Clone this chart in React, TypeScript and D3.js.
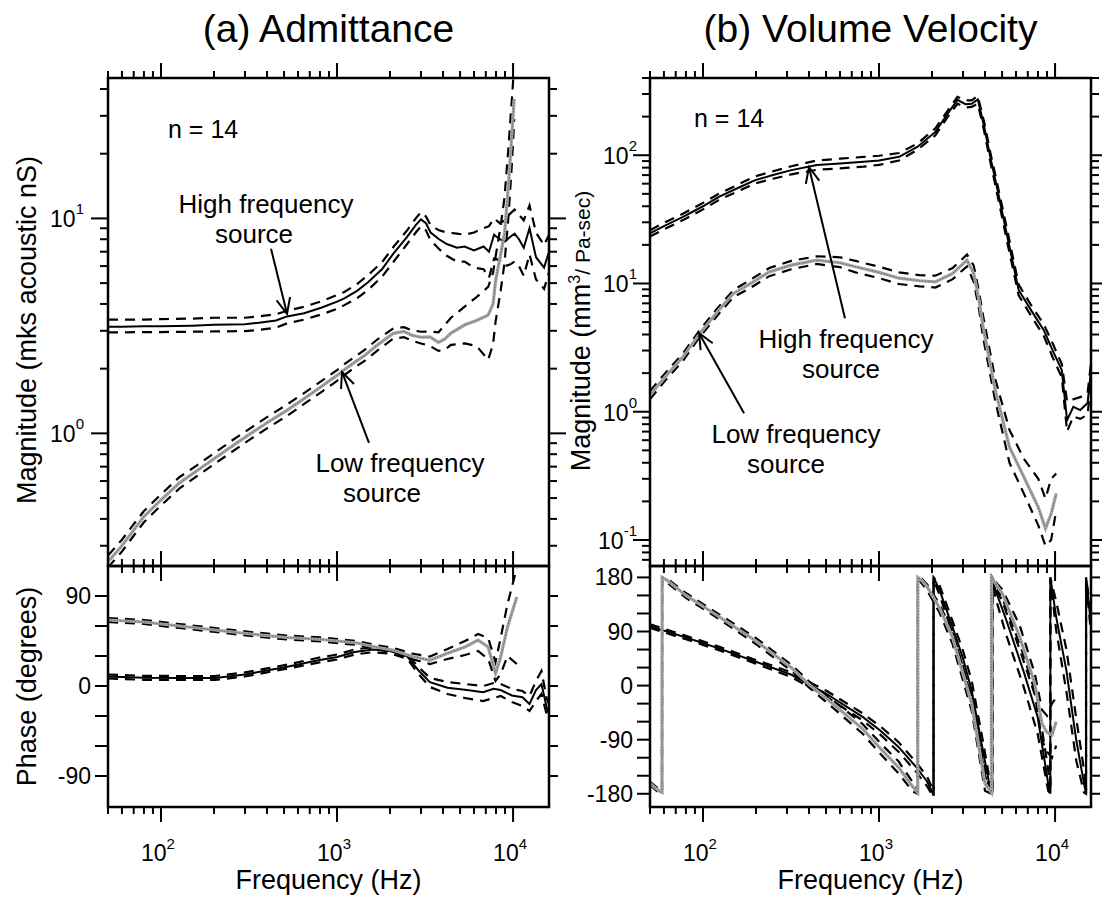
import React from "react";
import * as d3 from "d3";

// ---------------- DATA ----------------
// (a) Admittance magnitude, high frequency source
const admHiFreq = [50, 60, 80, 100, 150, 200, 300, 360, 450, 520, 650, 820, 1000, 1100, 1300, 1500, 1800, 2100, 2500, 2800, 3000, 3200, 3400, 3800, 4200, 4800, 5300, 6000, 6800, 7300, 7800, 8400, 9000, 9600, 10200, 10800, 11500, 12400, 13500, 15000, 16000];
const admHiMean = [3.13, 3.13, 3.15, 3.15, 3.17, 3.2, 3.22, 3.27, 3.35, 3.5, 3.62, 3.85, 4.1, 4.25, 4.6, 5.05, 5.8, 6.9, 8.2, 9.3, 9.9, 9.5, 8.6, 8.0, 7.6, 7.3, 7.4, 7.1, 7.4, 7.0, 8.4, 8.0, 7.8, 8.2, 8.5, 8.0, 7.3, 9.0, 6.6, 5.9, 7.0];
const admHiUpper = [3.38, 3.38, 3.38, 3.4, 3.42, 3.45, 3.45, 3.5, 3.58, 3.72, 3.88, 4.12, 4.4, 4.55, 4.95, 5.45, 6.25, 7.4, 8.8, 10.0, 10.7, 10.2, 9.3, 8.8, 8.6, 8.5, 8.4, 8.6, 9.0, 9.2, 10.0, 9.5, 9.8, 10.5, 11.0, 10.4, 9.8, 11.5, 8.6, 7.5, 8.4];
const admHiLower = [2.95, 2.95, 2.96, 2.96, 2.97, 2.98, 2.99, 3.03, 3.1, 3.25, 3.38, 3.58, 3.8, 3.95, 4.25, 4.65, 5.35, 6.3, 7.6, 8.6, 9.2, 8.8, 7.9, 7.2, 6.7, 6.3, 6.3, 5.9, 5.8, 5.3, 6.5, 6.4, 6.0, 6.1, 6.3, 6.0, 5.4, 6.8, 5.2, 4.7, 5.6];

// (a) Admittance magnitude, low frequency source
const admLoFreq = [50, 60, 70, 80, 100, 127, 160, 203, 250, 324, 400, 519, 650, 822, 1000, 1093, 1300, 1440, 1700, 2090, 2400, 2660, 3000, 3370, 3770, 4100, 4440, 5330, 6200, 7220, 7700, 7950, 8500, 8940, 9400, 9850, 10150];
const admLoMean = [0.253, 0.3, 0.355, 0.41, 0.49, 0.587, 0.67, 0.768, 0.865, 1.0, 1.12, 1.28, 1.45, 1.66, 1.86, 1.97, 2.18, 2.31, 2.58, 2.92, 2.98, 2.86, 2.8, 2.81, 2.65, 2.75, 2.93, 3.2, 3.35, 3.55, 4.0, 5.1, 6.8, 8.5, 14, 24.9, 36];
const admLoUpper = [0.27, 0.32, 0.378, 0.435, 0.52, 0.625, 0.71, 0.815, 0.92, 1.06, 1.19, 1.36, 1.54, 1.76, 1.97, 2.09, 2.31, 2.45, 2.74, 3.08, 3.12, 3.02, 2.97, 2.98, 2.95, 3.2, 3.45, 3.9, 4.3, 4.8, 5.6, 6.6, 9.2, 12.5, 21, 36, 52];
const admLoLower = [0.238, 0.282, 0.334, 0.386, 0.462, 0.553, 0.632, 0.724, 0.815, 0.943, 1.055, 1.205, 1.37, 1.565, 1.755, 1.86, 2.06, 2.18, 2.43, 2.76, 2.8, 2.7, 2.62, 2.55, 2.42, 2.45, 2.58, 2.62, 2.55, 2.2, 2.6, 3.3, 4.6, 6.2, 10, 18, 29];

// (a) Admittance phase, low frequency source
const admLoPhFreq = [50, 80, 127, 203, 324, 519, 822, 1300, 1650, 2090, 2660, 3370, 4240, 5330, 6330, 7220, 7950, 8500, 9300, 10500];
const admLoPhMean = [66, 64, 60, 56, 52, 48.5, 46.5, 43, 39, 35.7, 29.7, 25.7, 32.7, 39, 45.8, 39, 12.6, 29, 59, 89];
const admLoPhUpper = [68, 66, 62, 58, 54, 50.5, 48.5, 45, 41, 38, 32.5, 29.5, 37, 45, 52, 48, 24, 48, 82, 118];
const admLoPhLower = [64, 62, 58, 54, 50, 46.5, 44.5, 41, 37, 33.5, 27, 22, 27, 31, 35, 27, 5, 12, 30, 22];

// (a) Admittance phase, high frequency source
const admHiPhFreq = [50, 80, 127, 203, 300, 400, 530, 770, 1000, 1260, 1600, 2000, 2500, 2900, 3370, 4240, 5330, 6760, 7750, 8500, 9850, 11300, 12400, 13500, 14500, 15500, 16000];
const admHiPhMean = [9.5, 8.2, 8, 8, 11.6, 15.6, 19.6, 25.6, 29, 34, 36.4, 35, 29.7, 15.6, 3.8, -1.8, -3.8, -6.2, -2.8, -4, -9.5, -11.2, -18, -4, 2, -21, -28];
const admHiPhUpper = [11.5, 10.2, 10, 10, 13.6, 17.6, 21.6, 28, 31.5, 36.5, 39, 37.5, 32, 19, 8, 4, 2, 0, 3, 2, -3, -5, -10, 5, 15, -12, -18];
const admHiPhLower = [7.5, 6.2, 6, 6, 9.6, 13.6, 17.6, 23.2, 26.5, 31.5, 33.8, 32.5, 27.4, 12, -1, -8, -12, -15, -12, -10, -16, -20, -25, -15, -8, -28, -32];

// (b) Volume velocity magnitude, high frequency source
const vvHiFreq = [50, 60, 77, 100, 123, 160, 198, 250, 318, 443, 600, 817, 1000, 1300, 1650, 2090, 2450, 2790, 3100, 3360, 3640, 3960, 4300, 4670, 5400, 6210, 7300, 8630, 9700, 10920, 11700, 12700, 13900, 15300, 16000];
const vvHiMean = [24.6, 28, 33.1, 40, 47.4, 56, 64, 70, 76.5, 83.8, 86, 88.9, 91, 97.2, 116, 152, 210, 270, 250, 252, 272, 166, 95, 56.7, 22, 8.9, 6.2, 4.33, 3.0, 2.11, 0.86, 1.09, 1.03, 1.17, 2.11];
const vvHiUpper = [26, 29.7, 35, 42.5, 50, 59.5, 68.5, 75, 82, 91, 94, 97, 99, 104, 123, 162, 222, 285, 268, 268, 290, 180, 103, 62, 24.5, 9.8, 6.8, 4.8, 3.4, 2.35, 1.2, 1.25, 1.3, 1.4, 2.4];
const vvHiLower = [23.2, 26.4, 31.2, 37.8, 44.8, 52.8, 60.3, 65.5, 71, 77, 79, 81.5, 84, 91, 110, 143, 198, 252, 236, 238, 252, 153, 87, 51.5, 19.8, 8.1, 5.6, 3.9, 2.65, 1.85, 0.7, 0.92, 0.88, 0.95, 1.75];

// (b) Volume velocity magnitude, low frequency source
const vvLoFreq = [50, 61, 77, 96, 123, 149, 180, 238, 317, 443, 600, 735, 1000, 1300, 1700, 2090, 2620, 3160, 3450, 3700, 3900, 4570, 5510, 6650, 8030, 8820, 9500, 10150];
const vvLoMean = [1.35, 1.87, 2.68, 4.08, 6.2, 8.37, 9.7, 12.3, 13.9, 15.2, 14.5, 13.5, 12.2, 11.0, 10.5, 10.3, 12.0, 15.2, 12.0, 7.4, 4.6, 1.48, 0.53, 0.31, 0.18, 0.123, 0.16, 0.23];
const vvLoUpper = [1.45, 2.0, 2.85, 4.35, 6.6, 8.9, 10.4, 13.2, 15.0, 16.3, 16.0, 15.0, 13.5, 12.2, 11.6, 11.5, 13.2, 16.8, 13.8, 8.6, 5.6, 1.8, 0.72, 0.43, 0.3, 0.21, 0.3, 0.33];
const vvLoLower = [1.25, 1.75, 2.5, 3.85, 5.8, 7.85, 9.0, 11.4, 12.9, 14.2, 13.4, 12.2, 11.0, 9.9, 9.5, 9.3, 10.8, 13.6, 10.3, 6.3, 3.8, 1.22, 0.4, 0.23, 0.13, 0.09, 0.1, 0.17];

// (b) Volume velocity phase, high frequency source
const vvHiPhFreq = [50, 80, 123, 198, 318, 400, 505, 807, 1020, 1290, 1630, 1880, 2040, 2041, 2200, 2610, 3000, 3360, 3890, 4300, 4400, 4401, 4570, 5270, 6600, 7960, 9140, 9400, 9401, 10150, 11600, 13200, 14600, 15000, 15001, 16000];
const vvHiPhMean = [99, 80, 62, 40, 18, 2, -14, -52, -75, -102, -136, -160, -182, 180, 160, 98, 45, -8, -108, -174, -180, 180, 160, 110, 25, -52, -163, -180, 180, 114, 25, -91, -163, -180, 180, 100];
const vvHiPhUpper = [102, 83, 65, 43, 22, 6, -9, -46, -68, -94, -128, -152, -175, 180, 168, 108, 58, 8, -92, -165, -180, 180, 172, 130, 52, -25, -140, -178, 180, 140, 60, -55, -140, -175, 180, 120];
const vvHiPhLower = [96, 77, 59, 37, 14, -2, -19, -58, -82, -110, -144, -168, -186, 176, 152, 88, 32, -24, -124, -180, -180, 178, 148, 85, 0, -80, -175, -180, 178, 92, -10, -125, -178, -180, 178, 85];

// (b) Volume velocity phase, low frequency source
const vvLoPhFreq = [50, 56, 58.5, 58.6, 62, 80, 123, 198, 317, 400, 505, 807, 1020, 1290, 1550, 1660, 1661, 1750, 1880, 2200, 2610, 3360, 4000, 4350, 4351, 5020, 6300, 7670, 8420, 9000, 9600, 10150];
const vvLoPhMean = [-163, -175, -178, 180, 176, 150, 115, 75, 30, 2, -22, -72, -105, -136, -168, -178, 180, 175, 164, 130, 81, -30, -163, -178, 180, 153, 81, 3, -63, -78, -82, -60];
const vvLoPhUpper = [-160, -172, -176, 180, 179, 154, 119, 80, 35, 7, -16, -64, -96, -126, -160, -174, 180, 178, 168, 136, 90, -18, -150, -172, 180, 160, 100, 20, -40, -50, -30, -20];
const vvLoPhLower = [-166, -178, -180, 178, 172, 146, 111, 70, 25, -3, -28, -80, -114, -146, -176, -180, 178, 170, 158, 122, 70, -42, -175, -180, 178, 140, 60, -15, -90, -110, -120, -100];

// axis settings
const freqDomain = [50, 16000];
const freqMajor = [100, 1000, 10000];
const admMagDomain = [0.2415, 45];
const vvMagDomain = [0.0627, 400];
const admPhDomain = [-121, 120];
const vvPhDomain = [-202, 199];
const admPhTicks = [-90, -60, -30, 0, 30, 60, 90];
const admPhLabels = [-90, 0, 90];
const vvPhTicks = [-180, -150, -120, -90, -60, -30, 0, 30, 60, 90, 120, 150, 180];
const vvPhLabels = [-180, -90, 0, 90, 180];

// ---------------- LAYOUT ----------------
const W = 1102;
const H = 898;
const MAG_TOP = 78;
const MAG_BOT = 566;
const PH_TOP = 566;
const PH_BOT = 807;
const FONT = "'Liberation Sans', Arial, Helvetica, sans-serif";

type Series = { freq: number[]; mean: number[]; upper: number[]; lower: number[]; kind: "hi" | "lo" };
type Note = { lines: string[]; cx: number[]; base: number; f: number; v: number; dx: number; dy: number };

function logTicks(lo: number, hi: number) {
  const out: { v: number; major: boolean; e: number }[] = [];
  for (let e = Math.floor(Math.log10(lo)) - 1; e <= Math.ceil(Math.log10(hi)); e++) {
    for (let m = 1; m < 10; m++) {
      const v = m * Math.pow(10, e);
      if (v >= lo * 0.999 && v <= hi * 1.001) out.push({ v, major: m === 1, e });
    }
  }
  return out;
}

function Arrow({ x1, y1, x2, y2 }: { x1: number; y1: number; x2: number; y2: number }) {
  const a = Math.atan2(y2 - y1, x2 - x1);
  const L = 17;
  const s = 0.42;
  const p1 = [x2 - L * Math.cos(a - s), y2 - L * Math.sin(a - s)];
  const p2 = [x2 - L * Math.cos(a + s), y2 - L * Math.sin(a + s)];
  return (
    <g stroke="#000" strokeWidth={2} fill="none">
      <line x1={x1} y1={y1} x2={x2} y2={y2} />
      <polyline points={`${p1[0]},${p1[1]} ${x2},${y2} ${p2[0]},${p2[1]}`} />
    </g>
  );
}

function Panel(props: {
  id: string;
  x0: number;
  x1: number;
  title: string;
  magDomain: number[];
  phDomain: number[];
  phTicks: number[];
  phLabels: number[];
  mag: Series[];
  ph: Series[];
  supOff: number;
  magTitle: React.ReactNode;
  phTitle: boolean;
  nPos: [number, number];
  notes: Note[];
}) {
  const { id, x0, x1 } = props;
  const x = d3.scaleLog().domain(freqDomain).range([x0, x1]);
  const ym = d3.scaleLog().domain(props.magDomain).range([MAG_BOT, MAG_TOP]);
  const yp = d3.scaleLinear().domain(props.phDomain).range([PH_BOT, PH_TOP]);
  const xt = logTicks(freqDomain[0], freqDomain[1]);
  const mt = logTicks(props.magDomain[0], props.magDomain[1]);

  const lineM = (f: number[], v: number[]) =>
    d3.line<number>().x((_, i) => x(f[i])).y((d) => ym(d))(v) || "";
  const lineP = (f: number[], v: number[]) =>
    d3.line<number>().x((_, i) => x(f[i])).y((d) => yp(d))(v) || "";

  const drawSeries = (s: Series[], gen: (f: number[], v: number[]) => string) => (
    <>
      {s.map((d, k) => (
        <g key={"d" + k} fill="none" stroke="#000" strokeWidth={2.2} strokeDasharray="10 7">
          <path d={gen(d.freq, d.upper)} />
          <path d={gen(d.freq, d.lower)} />
        </g>
      ))}
      {s.map((d, k) =>
        d.kind === "lo" ? (
          <g key={"m" + k} fill="none">
            <path d={gen(d.freq, d.mean)} stroke="#a2a2a2" strokeWidth={3.2} />
            <path d={gen(d.freq, d.mean)} stroke="#555" strokeWidth={0.9} strokeDasharray="1 2" />
          </g>
        ) : (
          <path key={"m" + k} d={gen(d.freq, d.mean)} fill="none" stroke="#000" strokeWidth={2} />
        )
      )}
    </>
  );

  const cx = (x0 + x1) / 2;
  return (
    <g>
      <defs>
        <clipPath id={id + "m"}>
          <rect x={x0} y={MAG_TOP} width={x1 - x0} height={MAG_BOT - MAG_TOP} />
        </clipPath>
        <clipPath id={id + "p"}>
          <rect x={x0} y={PH_TOP} width={x1 - x0} height={PH_BOT - PH_TOP} />
        </clipPath>
      </defs>
      <text x={cx} y={42} textAnchor="middle" fontSize={39} fontFamily={FONT}>
        {props.title}
      </text>

      {/* data */}
      <g clipPath={`url(#${id}m)`}>{drawSeries(props.mag, lineM)}</g>
      <g clipPath={`url(#${id}p)`}>{drawSeries(props.ph, lineP)}</g>

      {/* frames */}
      <g stroke="#000" strokeWidth={2.5} fill="none">
        <rect x={x0} y={MAG_TOP} width={x1 - x0} height={MAG_BOT - MAG_TOP} />
        <rect x={x0} y={PH_TOP} width={x1 - x0} height={PH_BOT - PH_TOP} />
      </g>

      {/* x ticks */}
      <g stroke="#000" strokeWidth={2}>
        {xt.map((t, i) => {
          const px = x(t.v);
          const L = t.major ? 15 : 7;
          return (
            <g key={i}>
              <line x1={px} x2={px} y1={MAG_TOP} y2={MAG_TOP - L} />
              <line x1={px} x2={px} y1={MAG_BOT - L} y2={MAG_BOT + L} />
              <line x1={px} x2={px} y1={PH_BOT} y2={PH_BOT + L} />
            </g>
          );
        })}
      </g>
      {/* y ticks */}
      <g stroke="#000" strokeWidth={2}>
        {mt.map((t, i) => {
          const py = ym(t.v);
          const L = t.major ? 17 : 8;
          return (
            <g key={i}>
              <line x1={x0} x2={x0 - L} y1={py} y2={py} />
              <line x1={x1} x2={x1 + L} y1={py} y2={py} />
            </g>
          );
        })}
        {props.phTicks.map((t, i) => (
          <g key={"p" + i}>
            <line x1={x0} x2={x0 - 13} y1={yp(t)} y2={yp(t)} />
            <line x1={x1} x2={x1 + 9} y1={yp(t)} y2={yp(t)} />
          </g>
        ))}
      </g>

      {/* tick labels */}
      <g fontFamily={FONT} fontSize={23} fill="#000">
        {freqMajor.map((f) => (
          <text key={f} x={x(f) - 3} y={861} textAnchor="middle">
            10
            <tspan dy={-12} fontSize={15}>
              {Math.round(Math.log10(f))}
            </tspan>
          </text>
        ))}
        {mt
          .filter((t) => t.major)
          .map((t) => (
            <text key={t.e} x={x0 - props.supOff} y={ym(t.v) + 9} textAnchor="end">
              10
              <tspan dy={-13} fontSize={15}>
                {t.e}
              </tspan>
            </text>
          ))}
        {props.phLabels.map((t) => (
          <text key={t} x={x0 - 17} y={yp(t) + 8} textAnchor="end">
            {t}
          </text>
        ))}
      </g>

      {/* axis titles */}
      <text x={cx} y={889} textAnchor="middle" fontSize={27} fontFamily={FONT}>
        Frequency (Hz)
      </text>
      {props.magTitle}
      {props.phTitle && (
        <text transform={`translate(36,${(PH_TOP + PH_BOT) / 2}) rotate(-90)`} textAnchor="middle" fontSize={27} fontFamily={FONT}>
          Phase (degrees)
        </text>
      )}

      {/* annotations */}
      <text x={props.nPos[0]} y={props.nPos[1]} fontSize={25} fontFamily={FONT}>
        n = 14
      </text>
      {props.notes.map((n, i) => {
        const tx = x(n.f);
        const ty = ym(n.v);
        return (
          <g key={i}>
            {n.lines.map((l, j) => (
              <text key={j} x={n.cx[j]} y={n.base + j * 30} textAnchor="middle" fontSize={26} fontFamily={FONT}>
                {l}
              </text>
            ))}
            <Arrow x1={tx + n.dx} y1={ty + n.dy} x2={tx} y2={ty} />
          </g>
        );
      })}
    </g>
  );
}

export default function App() {
  const admMag: Series[] = [
    { freq: admHiFreq, mean: admHiMean, upper: admHiUpper, lower: admHiLower, kind: "hi" },
    { freq: admLoFreq, mean: admLoMean, upper: admLoUpper, lower: admLoLower, kind: "lo" },
  ];
  const admPh: Series[] = [
    { freq: admHiPhFreq, mean: admHiPhMean, upper: admHiPhUpper, lower: admHiPhLower, kind: "hi" },
    { freq: admLoPhFreq, mean: admLoPhMean, upper: admLoPhUpper, lower: admLoPhLower, kind: "lo" },
  ];
  const vvMag: Series[] = [
    { freq: vvHiFreq, mean: vvHiMean, upper: vvHiUpper, lower: vvHiLower, kind: "hi" },
    { freq: vvLoFreq, mean: vvLoMean, upper: vvLoUpper, lower: vvLoLower, kind: "lo" },
  ];
  const vvPh: Series[] = [
    { freq: vvHiPhFreq, mean: vvHiPhMean, upper: vvHiPhUpper, lower: vvHiPhLower, kind: "hi" },
    { freq: vvLoPhFreq, mean: vvLoPhMean, upper: vvLoPhUpper, lower: vvLoPhLower, kind: "lo" },
  ];

  return (
    <svg width={W} height={H} style={{ position: "absolute", left: 0, top: 0, background: "#fff" }}>
      <rect width={W} height={H} fill="#fff" />
      <Panel
        id="a"
        x0={108}
        x1={549}
        title="(a) Admittance"
        magDomain={admMagDomain}
        phDomain={admPhDomain}
        phTicks={admPhTicks}
        phLabels={admPhLabels}
        mag={admMag}
        ph={admPh}
        supOff={24}
        phTitle={true}
        magTitle={
          <text transform={`translate(36,330) rotate(-90)`} textAnchor="middle" fontSize={27} fontFamily={FONT}>
            Magnitude (mks acoustic nS)
          </text>
        }
        nPos={[168, 138]}
        notes={[
          { lines: ["High frequency", "source"], cx: [266, 254], base: 213, f: 520, v: 3.6, dx: -16, dy: -65 },
          { lines: ["Low frequency", "source"], cx: [400, 382], base: 472, f: 1067, v: 1.93, dx: 27, dy: 71 },
        ]}
      />
      <Panel
        id="b"
        x0={650}
        x1={1091}
        title="(b) Volume Velocity"
        magDomain={vvMagDomain}
        phDomain={vvPhDomain}
        phTicks={vvPhTicks}
        phLabels={vvPhLabels}
        mag={vvMag}
        ph={vvPh}
        supOff={13}
        phTitle={false}
        magTitle={
          <text transform={`translate(590,331) rotate(-90)`} textAnchor="middle" fontSize={27} fontFamily={FONT}>
            Magnitude (mm
            <tspan dy={-10} fontSize={16}>
              3
            </tspan>
            <tspan dy={10} fontSize={21}>
              / Pa-sec)
            </tspan>
          </text>
        }
        nPos={[694, 127]}
        notes={[
          { lines: ["High frequency", "source"], cx: [846, 841], base: 348, f: 400, v: 80.7, dx: 36, dy: 151 },
          { lines: ["Low frequency", "source"], cx: [796, 786], base: 443, f: 95, v: 4.1, dx: 45, dy: 80 },
        ]}
      />
    </svg>
  );
}
